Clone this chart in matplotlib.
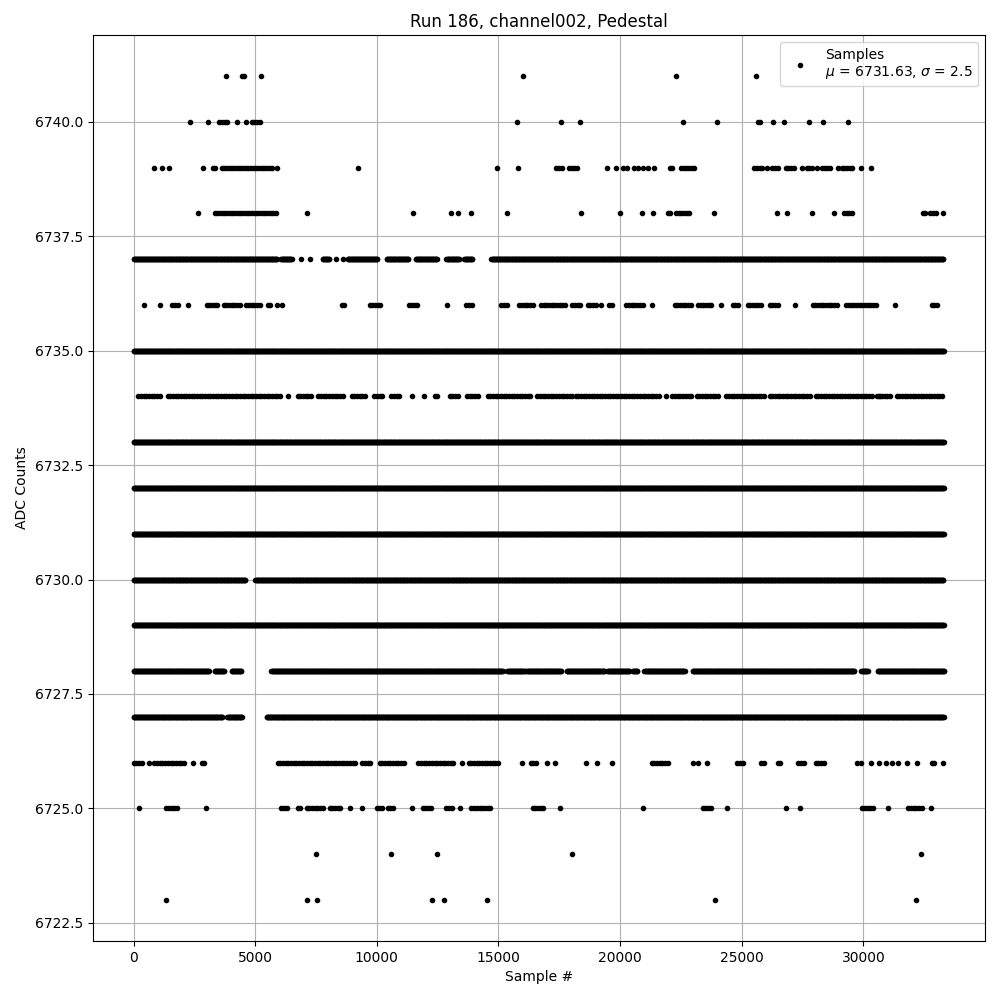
import numpy as np
from matplotlib import pyplot as plt

# ADC levels seen in the run, with the sample ranges where the band is filled
# (spans) and the lone samples (singles)
levels = [6741, 6740, 6739, 6738, 6737, 6736, 6735, 6734, 6733, 6732,
          6731, 6730, 6729, 6728, 6727, 6726, 6725, 6724, 6723]

spans = {
    6741: [(4450, 4600)],
    6740: [(3530, 3860), (4850, 5180), (25650, 25850)],
    6739: [(3250, 3410), (3620, 5710), (17380, 17600), (17900, 18330), (22030, 22200),
           (22500, 23140), (25520, 25900), (26250, 26500), (26800, 27170), (27660, 27950),
           (28300, 28700), (29100, 29600)],
    6738: [(2660, 2760), (3330, 5880), (21950, 22100), (22300, 22850), (32430, 32600),
           (32750, 33000), (28810, 28900), (29200, 29550)],
    6737: [(0, 5900), (6050, 6500), (7770, 8060), (8800, 10030), (10400, 11300),
           (11600, 12490), (12860, 13400), (13600, 13930), (14710, 33300)],
    6736: [(1600, 1890), (3000, 3500), (3700, 4360), (4640, 5260), (5510, 5700),
           (8550, 8750), (9700, 10190), (11340, 11670), (13680, 13930), (15120, 15370),
           (15860, 16500), (16750, 17840), (18040, 18410), (18660, 19030), (19560, 19770),
           (20260, 20920), (22240, 22900), (23200, 23800), (24620, 24910), (25240, 25810),
           (26140, 26470), (27910, 28690), (28810, 29020), (29300, 30540), (32800, 33040)],
    6735: [(0, 33300)],
    6734: [(200, 1150), (1400, 6080), (6740, 7300), (7600, 8590), (8960, 9600),
           (9900, 10300), (10600, 11010), (12370, 12580), (12990, 13400), (13700, 14220),
           (14550, 16400), (16600, 18040), (18170, 21620), (22150, 22980), (23140, 24080),
           (24370, 25930), (26140, 27870), (28030, 30370), (30540, 31190), (31360, 33250)],
    6733: [(0, 33300)],
    6732: [(0, 33300)],
    6731: [(0, 33300)],
    6730: [(0, 4600), (5010, 33300)],
    6729: [(0, 33300)],
    6728: [(0, 3120), (3330, 3740), (4030, 4440), (5670, 15170), (15370, 16070),
           (16150, 17590), (17800, 19360), (19480, 20390), (20510, 20710), (21000, 22650),
           (22980, 29630), (29920, 30170), (30580, 33330)],
    6727: [(0, 3660), (3860, 4480), (5470, 33300)],
    6726: [(0, 330), (860, 2100), (2800, 2920), (5920, 9200), (9400, 9780),
           (10110, 11140), (11710, 13190), (13770, 15040), (16320, 16600), (21290, 22030),
           (24820, 25110), (25810, 25980), (26470, 26670), (27330, 27580), (28030, 28400),
           (32800, 33000)],
    6725: [(1350, 1890), (6080, 6330), (6740, 6900), (7110, 7850), (8060, 8590),
           (9990, 10230), (10440, 10730), (11880, 12210), (12860, 13110), (13890, 14750),
           (16400, 16890), (23390, 23800), (29960, 30500), (31850, 32430)],
    6724: [],
    6723: [],
}

singles = {
    6741: [3820, 5220, 15990, 22280, 25600],
    6740: [2340, 3080, 4270, 4640, 15780, 17550, 18330, 22570, 24000, 26300, 26720,
           27780, 28320, 29350],
    6739: [860, 1150, 1440, 2840, 5880, 9210, 14920, 15820, 19480, 19850, 20100, 20300,
           20550, 20750, 20950, 21150, 21410, 26050, 27470, 28100, 28950, 29900, 30330],
    6738: [7110, 11470, 13030, 13320, 13890, 15330, 18410, 19980, 20880, 21370, 23840,
           26430, 26840, 27870, 33250],
    6737: [6900, 7270, 8340, 8590],
    6736: [410, 1070, 2220, 5900, 6120, 12900, 19200, 21290, 24150, 27170, 31280],
    6734: [6330, 11430, 11920, 21870, 30700],
    6726: [620, 2430, 13520, 15950, 17010, 17340, 18580, 19030, 19650, 22980, 23220,
           23590, 29720, 29920, 30330, 30620, 30910, 31190, 31440, 31770, 32220, 33290],
    6725: [210, 2960, 8880, 9410, 11430, 13400, 17510, 20920, 24410, 26800, 27410,
           30990, 32760],
    6724: [7480, 10600, 12490, 18040, 32350],
    6723: [1350, 7110, 7560, 12250, 12740, 14510, 23880, 32180],
}

# levels where the band is packed solid; the rest are chains of dots
solid_levels = [6737, 6735, 6733, 6732, 6731, 6730, 6729, 6728, 6727]

mu = 6731.63
sigma = 2.5
run = 186
channel = 'channel002'

xs = []
ys = []
for lev in levels:
    step = 25 if lev in solid_levels else 110
    for (a, b) in spans[lev]:
        pts = np.arange(a, b + 1, step)
        xs.append(pts)
        ys.append(np.full(len(pts), lev))
    s = np.array(singles.get(lev, []))
    xs.append(s)
    ys.append(np.full(len(s), lev))
xs = np.concatenate(xs)
ys = np.concatenate(ys)

fig, ax = plt.subplots(figsize=(10, 10))
ax.plot(xs, ys, 'k.',
        label='Samples\n$\\mu$ = {0:.2f}, $\\sigma$ = {1:.1f}'.format(mu, sigma))
ax.set_title('Run {0}, {1}, Pedestal'.format(run, channel))
ax.set_xlabel('Sample #')
ax.set_ylabel('ADC Counts')
ax.ticklabel_format(useOffset=False)
ax.grid(True)
ax.legend(loc='upper right')
fig.subplots_adjust(left=0.093, right=0.985, top=0.965, bottom=0.059)
plt.savefig('out.png', dpi=100)
